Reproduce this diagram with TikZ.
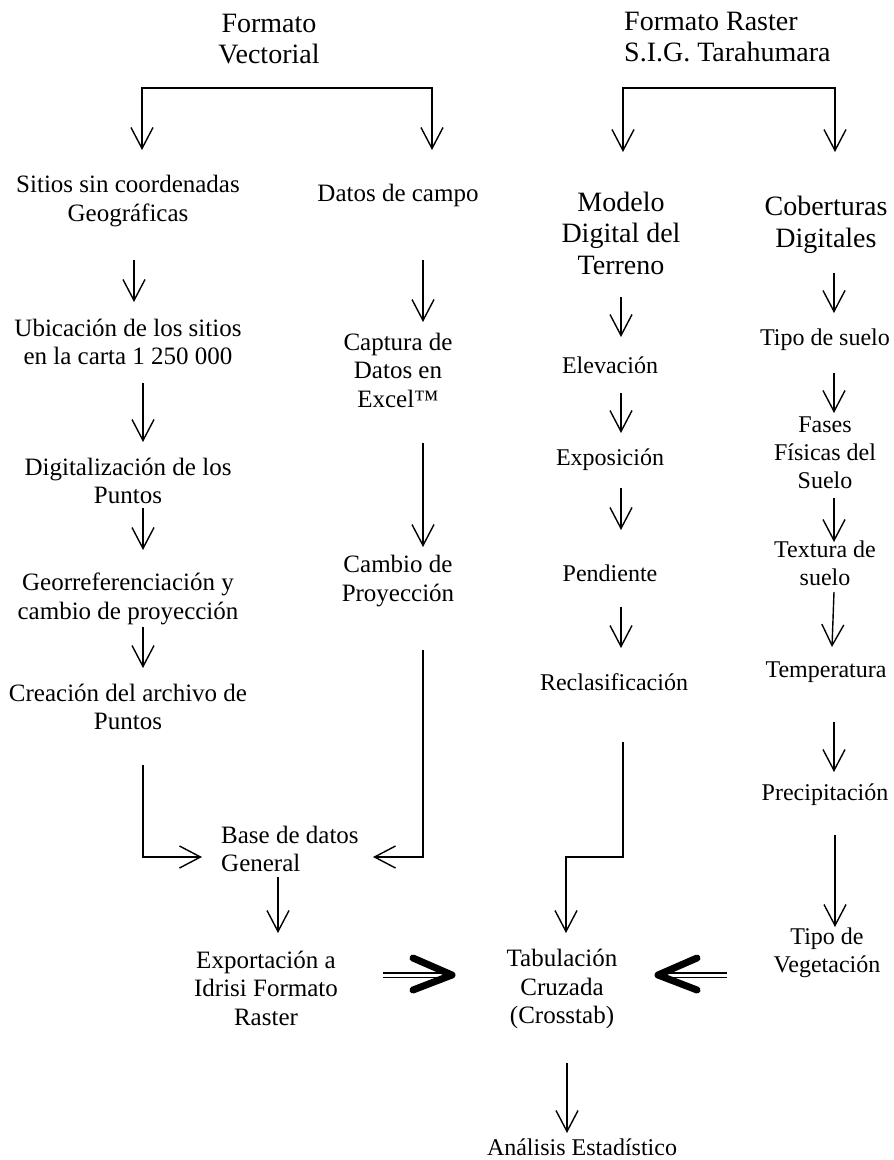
\documentclass[tikz,border=0pt]{standalone}
\usepackage{fontspec}
\setmainfont{Liberation Serif}
\usetikzlibrary{arrows.meta,calc}
\tikzset{
  lbl/.style={inner sep=0pt, align=center, font=\fontsize{25}{28.5}\selectfont},
  lblbig/.style={inner sep=0pt, align=center, font=\fontsize{28}{31.5}\selectfont},
  lblsm/.style={inner sep=0pt, align=center, font=\fontsize{24}{28}\selectfont},
  arr/.style={line width=1.4pt, -{Straight Barb[length=21pt,width=22pt]}},
  arrtwo/.style={line width=1.4pt, {Straight Barb[length=21pt,width=22pt]}-{Straight Barb[length=21pt,width=22pt]}},
  dblline/.style={double, double distance=3pt, line width=1.5pt},
  chev/.style={line width=7pt, line cap=round, line join=round},
}
\begin{document}
\begin{tikzpicture}[x=1pt,y=-1pt]
\useasboundingbox (0,0) rectangle (894,1160);
% titles
\node[lblbig] (fv) at (269,39) {Formato\\Vectorial};
\node[lblbig, anchor=west, align=left] (fr) at (624,37) {Formato Raster\\S.I.G. Tarahumara};
% column 1
\node[lbl] (sitios) at (128,201) {Sitios sin coordenadas\\Geográficas};
\node[lbl] (ubic) at (128,342) {Ubicación de los sitios\\en la carta 1 250 000};
\node[lbl] (digit) at (128,481) {Digitalización de los\\Puntos};
\node[lbl] (georef) at (128,599) {Georreferenciación y\\cambio de proyección};
\node[lbl] (creacion) at (128,707) {Creación del archivo de\\Puntos};
% column 2
\node[lbl] (campo) at (398,195) {Datos de campo};
\node[lbl] (captura) at (398,370) {Captura de\\Datos en\\Excel™};
\node[lbl] (cambio) at (398,581) {Cambio de\\Proyección};
\node[lbl, anchor=west, align=left] (base) at (221,849) {Base de datos\\General};
% column 3
\node[lblbig] (modelo) at (621,233) {Modelo\\Digital del\\Terreno};
\node[lblsm] (elev) at (610,365) {Elevación};
\node[lblsm] (expo) at (610,460) {Exposición};
\node[lblsm] (pend) at (610,573) {Pendiente};
\node[lblsm] (reclas) at (614,682) {Reclasificación};
% column 4
\node[lblbig] (cober) at (826,225) {Coberturas\\Digitales};
\node[lblsm] (tsuelo) at (825,340) {Tipo de suelo};
\node[lblsm] (fases) at (825,453) {Fases\\Físicas del\\Suelo};
\node[lblsm] (textura) at (825,563) {Textura de\\suelo};
\node[lblsm] (temp) at (826,672) {Temperatura};
\node[lblsm] (precip) at (825,795) {Precipitación};
\node[lblsm] (tveg) at (827,953) {Tipo de\\Vegetación};
% bottom
\node[lbl] (export) at (266,988) {Exportación a\\Idrisi Formato\\Raster};
\node[lbl] (tab) at (562,989) {Tabulación\\Cruzada\\(Crosstab)};
\node[lblsm] (analisis) at (582,1147) {Análisis Estadístico};

% brackets
\draw[arrtwo] ($(sitios.center)+(14,-51)$) -- ++(0,-62) -| ($(campo.center)+(34,-45)$);
\draw[arrtwo] ($(modelo.center)+(2,-81)$) -- ++(0,-64) -| ($(cober.center)+(9,-73)$);
% column 1
\draw[arr] ($(sitios.center)+(6,59)$) -- ($(ubic.center)+(6,-40)$);
\draw[arr] ($(ubic.center)+(15,41)$) -- ($(digit.center)+(15,-39)$);
\draw[arr] ($(digit.center)+(15,27)$) -- ($(georef.center)+(15,-49)$);
\draw[arr] ($(georef.center)+(15,28)$) -- ($(creacion.center)+(15,-39)$);
\draw[arr] ($(creacion.center)+(15,58)$) |- ($(base.west)+(-19,8)$);
% column 2
\draw[arr] ($(campo.center)+(25,65)$) -- ($(captura.center)+(25,-48)$);
\draw[arr] ($(captura.center)+(25,73)$) -- ($(cambio.center)+(25,-34)$);
\draw[arr] ($(cambio.center)+(25,69)$) |- ($(base.west)+(152,8)$);
\draw[arr] ($(base.west)+(57,28)$) -- ($(export.center)+(12,-55)$);
% column 3
\draw[arr] ($(modelo.center)+(0,64)$) -- ($(elev.center)+(11,-28)$);
\draw[arr] ($(elev.center)+(11,28)$) -- ($(expo.center)+(11,-27)$);
\draw[arr] ($(expo.center)+(11,28)$) -- ($(pend.center)+(11,-43)$);
\draw[arr] ($(pend.center)+(11,34)$) -- ($(reclas.center)+(7,-34)$);
\draw[arr] ($(reclas.center)+(9,60)$) -- ++(0,115) -| ($(tab.center)+(4,-56)$);
% column 4
\draw[arr] ($(cober.center)+(8,48)$) -- ($(tsuelo.center)+(9,-27)$);
\draw[arr] ($(tsuelo.center)+(9,33)$) -- ($(fases.center)+(9,-40)$);
\draw[arr] ($(fases.center)+(9,45)$) -- ($(textura.center)+(9,-21)$);
\draw[arr] ($(textura.center)+(9,29)$) -- ($(temp.center)+(6,-25)$);
\draw[arr] ($(temp.center)+(8,50)$) -- ($(precip.center)+(9,-23)$);
\draw[arr] ($(precip.center)+(10,40)$) -- ($(tveg.center)+(8,-26)$);
% thick double arrows
\draw[dblline] ($(export.center)+(117,-13)$) -- ($(tab.center)+(-114,-14)$);
\draw[chev] ($(tab.center)+(-149,-31)$) -- ($(tab.center)+(-110,-14)$) -- ($(tab.center)+(-149,1)$);
\draw[dblline] ($(tveg.center)+(-100,22)$) -- ($(tab.center)+(102,-14)$);
\draw[chev] ($(tab.center)+(135,-31)$) -- ($(tab.center)+(96,-14)$) -- ($(tab.center)+(135,1)$);
% final
\draw[arr] ($(tab.center)+(5,74)$) -- ($(analisis.center)+(-15,-14)$);
\end{tikzpicture}
\end{document}
